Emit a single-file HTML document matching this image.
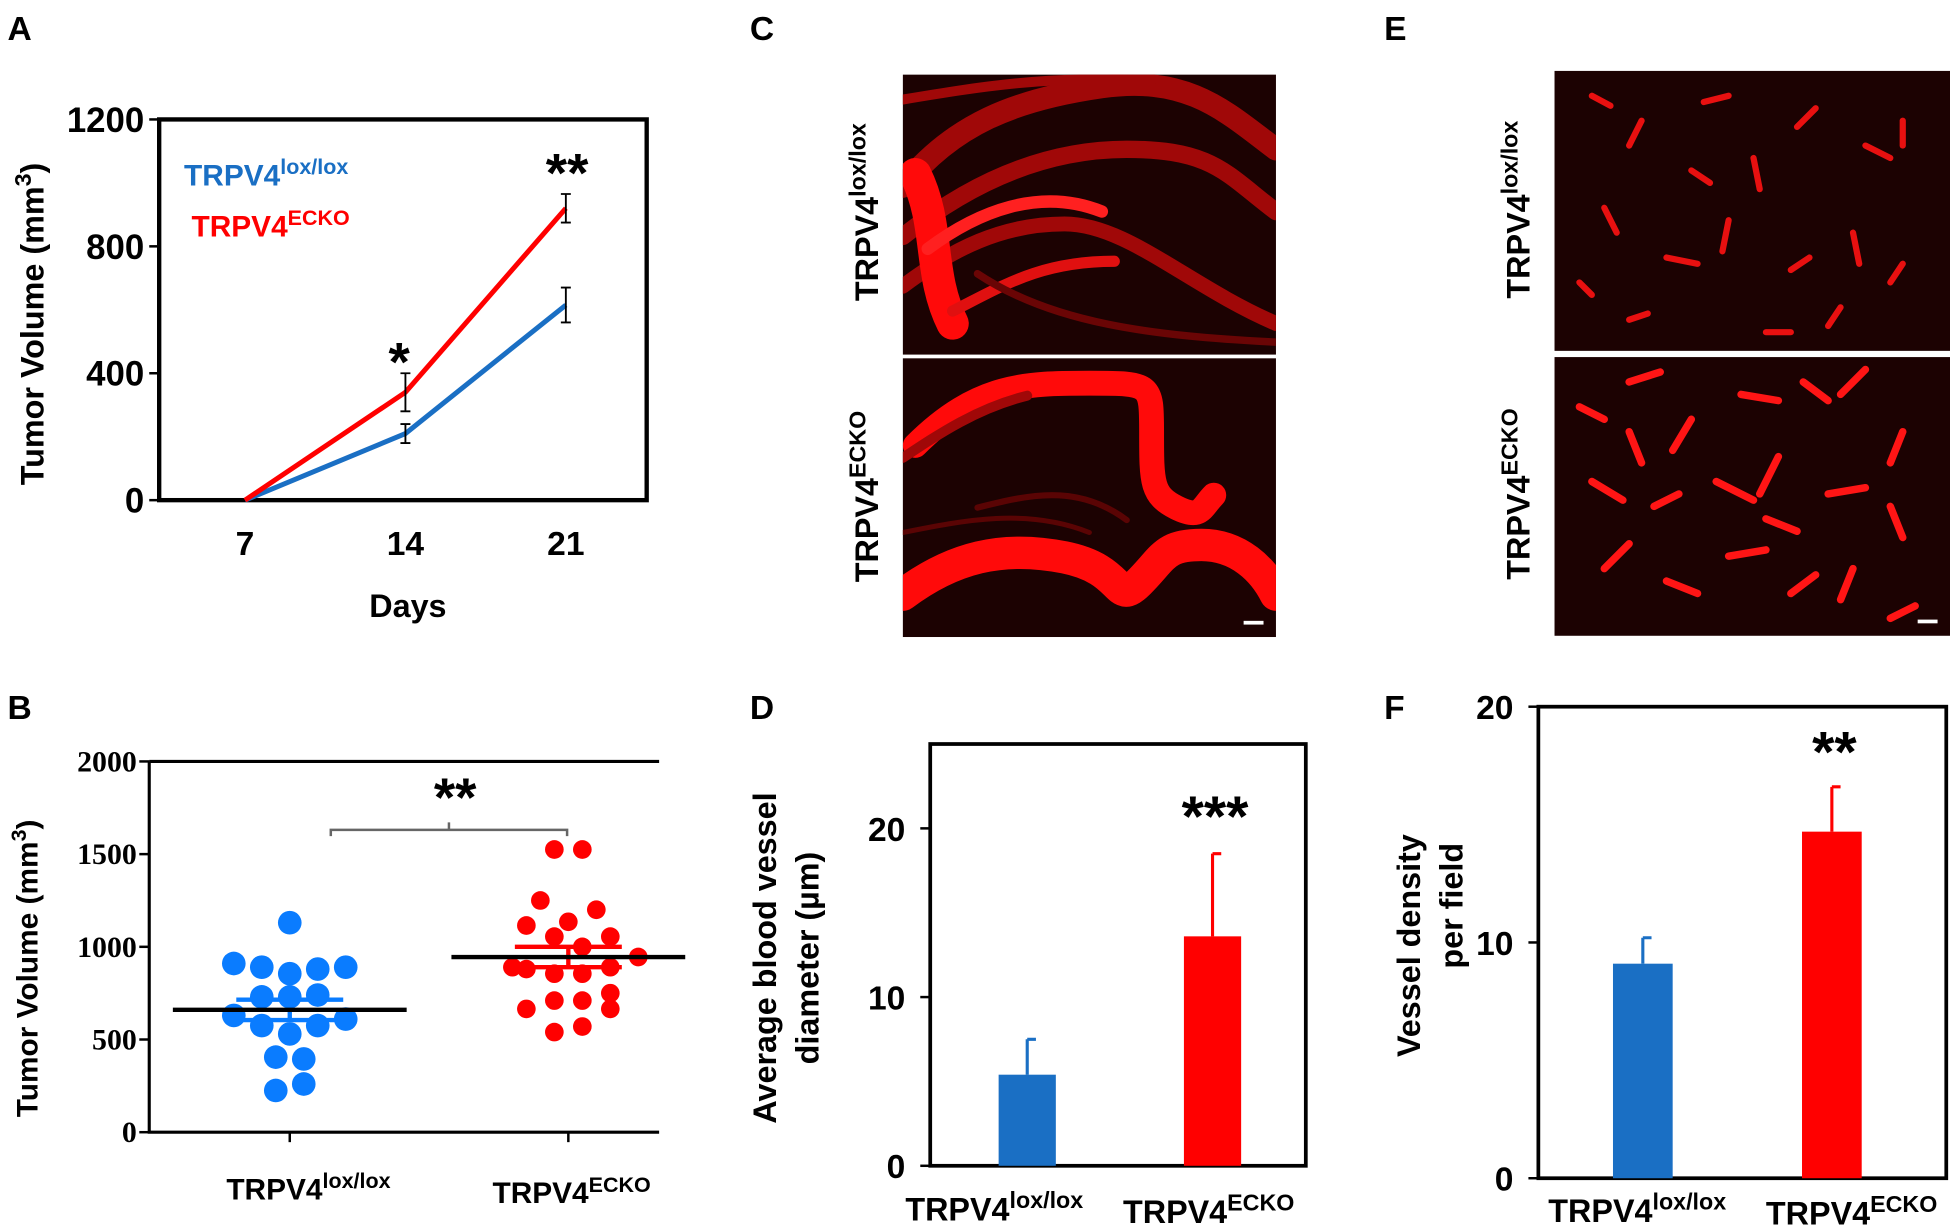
<!DOCTYPE html>
<html><head><meta charset="utf-8"><style>
html,body{margin:0;padding:0;background:#fff;}
svg{display:block;font-family:"Liberation Sans",Arial,sans-serif;font-weight:bold;}
</style></head><body>
<svg id="fig" width="1950" height="1228" viewBox="0 0 1568 987" preserveAspectRatio="none" xmlns="http://www.w3.org/2000/svg">
<g id="labels" font-size="27">
<text x="6" y="32">A</text>
<text x="6" y="578">B</text>
<text x="603" y="32">C</text>
<text x="603" y="578">D</text>
<text x="1113" y="32">E</text>
<text x="1113" y="578">F</text>
</g>
<g id="panelA"></g>
<g id="panelB"></g>
<g id="panelC"></g>
<g id="panelE"></g>
<g id="panelD"></g>
<g id="panelF"></g>
</svg>
<script>
// ---- Panel A data ----
const daysA = [7, 14, 21];
const ctrlA = [0, 210, 615];
const ctrlErrA = [0, 30, 55];
const ekoA = [0, 340, 920];
const ekoErrA = [0, 60, 45];
const yTicksA = [0, 400, 800, 1200];
// ---- Panel B data ----
const ctrlB = [1130,910,890,855,880,890,730,730,740,630,575,530,575,610,405,395,225,260];
const ctrlJitB = [0,-2,-1,0,1,2,-1,0,1,-2,-1,0,1,2,-0.5,0.5,-0.5,0.5];
const ekoB = [1525,1525,1250,1200,1135,1115,1055,1055,1000,945,890,880,855,855,890,750,710,710,665,665,540,570];
const ekoJitB = [-0.5,0.5,-1,1,0,-1.5,-0.5,1.5,0.5,2.5,-2,-1.5,-0.5,0.5,1.5,1.5,-0.5,0.5,-1.5,1.5,-0.5,0.5];
const meanB = [660, 945];
const semB = [55, 55];
const yTicksB = [0, 500, 1000, 1500, 2000];
// ---- Panel D data ----
const valD = [5.4, 13.6];
const errD = [2.1, 4.9];
const yTicksD = [0, 10, 20];
// ---- Panel F data ----
const valF = [9.1, 14.7];
const errF = [1.1, 1.9];
const yTicksF = [0, 10, 20];

const NS = "http://www.w3.org/2000/svg";
function mk(parent, tag, attrs, text){
  const e = document.createElementNS(NS, tag);
  for (const k in attrs) e.setAttribute(k, attrs[k]);
  if (text !== undefined) e.textContent = text;
  parent.appendChild(e);
  return e;
}
function label(parent, x, y, base, sup, fill, size, name, rot){
  const t = mk(parent, 'text', {x:x, y:y, fill:fill, 'font-size':size});
  if (rot) t.setAttribute('transform', rot);
  
  
  mk(t, 'tspan', {}, base);
  mk(t, 'tspan', {'font-size': size*0.72, dy: -size*0.38}, sup);
  return t;
}

// ===== Panel A =====
(function(){
  const g = document.getElementById('panelA');
  const L=128,R=520,T=96,B=402;
  const xs = d => 197 + (d-7)*(455-197)/14;
  const ys = v => B - v*(B-T)/1200;
  const fr = mk(g,'rect',{x:L,y:T,width:R-L,height:B-T,fill:'none',stroke:'#000','stroke-width':3.5});
  
  
  yTicksA.forEach(v=>{
    const tk = mk(g,'line',{x1:L-8,x2:L,y1:ys(v),y2:ys(v),stroke:'#000','stroke-width':2});
    
    
    const tl = mk(g,'text',{x:L-12,y:ys(v)+10,'text-anchor':'end','font-size':28},String(v));
    
    
  });
  daysA.forEach(d=>{
    const tl = mk(g,'text',{x:xs(d),y:446,'text-anchor':'middle','font-size':27},String(d));
    
    
  });
  const xt = mk(g,'text',{x:328,y:496,'text-anchor':'middle','font-size':26},'Days');
  
  
  label(g,0,0,'Tumor Volume (mm','3','#000',26,'y-axis-title-a','translate(35,390) rotate(-90)');
  mk(g.lastChild,'tspan',{dy:9.9},')');
  [[ctrlA,ctrlErrA,'#1a6fc4','line-control'],[ekoA,ekoErrA,'#ff0000','line-ecko']].forEach(([vals,errs,col,nm])=>{
    const p = mk(g,'polyline',{points:vals.map((v,i)=>xs(daysA[i])+','+ys(v)).join(' '),fill:'none',stroke:col,'stroke-width':4});
    
    
    vals.forEach((v,i)=>{ if(!errs[i]) return;
      const x=xs(daysA[i]);
      const e = mk(g,'path',{d:`M${x},${ys(v-errs[i])}V${ys(v+errs[i])}M${x-4},${ys(v-errs[i])}h8M${x-4},${ys(v+errs[i])}h8`,stroke:'#000','stroke-width':1.5,fill:'none'});
      
      
    });
  });
  label(g,148,149,'TRPV4','lox/lox','#1a6fc4',24,'legend-entry-control');
  label(g,154,190,'TRPV4','ECKO','#ff0000',24,'legend-entry-ecko');
  const s1 = mk(g,'text',{x:321,y:306,'text-anchor':'middle','font-size':44},'*');
  
  
  const s2 = mk(g,'text',{x:456,y:154,'text-anchor':'middle','font-size':44},'**');
  
  
})();

// ===== Panel B =====
(function(){
  const g = document.getElementById('panelB');
  const L=120,R=530,T=612,B=910;
  const ys = v => B - v*(B-T)/2000;
  const cx = [233, 457];
  const fr = mk(g,'path',{d:`M${L},${T}H${R}M${L},${T}V${B}H${R}`,fill:'none',stroke:'#000','stroke-width':2.5});
  
  
  yTicksB.forEach(v=>{
    const tk = mk(g,'line',{x1:L-8,x2:L,y1:ys(v),y2:ys(v),stroke:'#000','stroke-width':2});
    
    
    const tl = mk(g,'text',{x:L-10,y:ys(v)+8,'text-anchor':'end','font-size':24,'font-family':'Liberation Serif, serif'},String(v));
    
    
  });
  cx.forEach(x=>{
    const tk = mk(g,'line',{x1:x,x2:x,y1:B,y2:B+8,stroke:'#000','stroke-width':2});
    
    
  });
  label(g,182,964,'TRPV4','lox/lox','#000',24,'x-label-control-b');
  label(g,396,967,'TRPV4','ECKO','#000',24,'x-label-ecko-b');
  label(g,0,0,'Tumor Volume (mm','3','#000',24,'y-axis-title-b','translate(30,898) rotate(-90)');
  mk(g.lastChild,'tspan',{dy:9.1},')');
  [[ctrlB,ctrlJitB,'#0a7cff',0],[ekoB,ekoJitB,'#ff0000',1]].forEach(([vals,jit,col,gi])=>{
    vals.forEach((v,i)=>{
      const c = mk(g,'circle',{cx:cx[gi]+jit[i]*22.5,cy:ys(v),r:gi?7.5:9.5,fill:col});
      
      
    });
    const m = ys(meanB[gi]), sh=ys(meanB[gi]+semB[gi]), sl=ys(meanB[gi]-semB[gi]);
    const eb = mk(g,'path',{d:`M${cx[gi]-43},${sh}h86M${cx[gi]-43},${sl}h86M${cx[gi]},${sh}V${sl}`,stroke:col,'stroke-width':3.5,fill:'none'});
    
    
    const ml = mk(g,'line',{x1:cx[gi]-94,x2:cx[gi]+94,y1:m,y2:m,stroke:'#000','stroke-width':3.5});
    
    
  });
  const br = mk(g,'path',{d:'M266,672V667H456V672M361,667V661',stroke:'#666','stroke-width':2,fill:'none'});
  
  
  const st = mk(g,'text',{x:366,y:656,'text-anchor':'middle','font-size':44},'**');
  
  
})();

// ===== Micrographs =====
function micro(g, x, y, w, h, paths, name, lblBase, lblSup, lx, ly, bar){
  const r = mk(g,'rect',{x:x,y:y,width:w,height:h,fill:'#1c0202'});
  
  
  const clip = 'c'+name;
  const cp = mk(g,'clipPath',{id:clip});
  mk(cp,'rect',{x:x,y:y,width:w,height:h});
  const gg = mk(g,'g',{'clip-path':`url(#${clip})`});
  paths.forEach(([d,sw,col])=>{
    const p = mk(gg,'path',{d:d,transform:`translate(${x},${y})`,stroke:col||'#ff1010','stroke-width':sw,fill:'none','stroke-linecap':'round','stroke-linejoin':'round'});
    
    
  });
  if(bar){ const b=mk(g,'rect',{x:x+w-26,y:y+h-13,width:16,height:3,fill:'#fff'});
    
     }
  label(g,0,0,lblBase,lblSup,'#000',26,'image-label',`translate(${lx},${ly}) rotate(-90)`);
}
(function(){
  const g = document.getElementById('panelC');
  const dim='#a00808';
  micro(g,726,60,300,225,[
    ['M0,90 C40,40 90,20 160,10 S260,30 300,60',18,dim],
    ['M0,130 C50,90 110,60 180,60 S260,80 300,110',14,dim],
    ['M0,170 C40,140 80,120 130,120 S230,170 300,200',12,dim],
    ['M10,80 C30,120 20,160 40,200',26,'#ff0a0a'],
    ['M20,140 C60,110 110,90 160,110',10,'#ff2020'],
    ['M40,190 C80,170 110,150 170,150',9,'#e01010'],
    ['M0,20 C60,10 120,0 200,5',8,dim],
    ['M60,160 C120,200 200,210 300,215',6,'#6a0505']
  ],'micrograph-c-control','TRPV4','lox/lox',706,242,false);
  micro(g,726,288,300,224,[
    ['M10,70 C60,20 100,20 150,20 S200,20 200,60 S200,110 220,120 S240,120 250,110',20,'#ff0a0a'],
    ['M0,190 C40,160 80,150 130,160 S170,200 190,180 S210,150 240,150 S290,170 300,190',26,'#ff0a0a'],
    ['M0,80 C30,60 60,40 100,30',8,dim],
    ['M60,120 C100,110 140,100 180,130',5,'#5a0404'],
    ['M0,140 C50,130 100,120 150,140',4,'#5a0404']
  ],'micrograph-c-ecko','TRPV4','ECKO',706,468,true);
})();
(function(){
  const g = document.getElementById('panelE');
  const s1=[], s2=[];
  [[30,20,15,8],[70,40,-10,20],[120,25,20,-5],[160,70,5,25],[210,30,-15,15],[250,60,20,10],[40,110,10,20],[90,150,25,5],[140,120,-5,25],[190,160,15,-10],[240,130,5,25],[280,40,0,20],[60,200,15,-5],[170,210,20,0],[230,190,-10,15],[20,170,10,10],[110,80,15,10],[270,170,10,-15]].forEach(([a,b,c,d])=>s1.push([`M${a},${b}l${c},${d}`,5,'#e81010']));
  [[20,40,20,10],[60,20,25,-8],[110,50,-15,25],[150,30,30,5],[200,20,20,15],[250,10,-20,20],[280,60,-10,25],[30,100,25,15],[80,120,20,-10],[130,100,30,15],[180,80,-15,30],[220,110,30,-5],[270,120,10,25],[40,170,20,-20],[90,180,25,10],[140,160,30,-5],[190,190,20,-15],[240,170,-10,25],[290,200,-20,10],[60,60,10,25],[170,130,25,10]].forEach(([a,b,c,d])=>s2.push([`M${a},${b}l${c},${d}`,6,'#ff1515']));
  micro(g,1250,57,318,225,s1,'micrograph-e-control','TRPV4','lox/lox',1230,240,false);
  micro(g,1250,287,318,224,s2,'micrograph-e-ecko','TRPV4','ECKO',1230,466,true);
})();

// ===== Bar panels =====
function barPanel(g, L, R, T, B, maxV, ticks, vals, errs, xs, bw, titleLines, star, starY, lab1, lab2, suffix){
  const ys = v => B - v*(B-T)/maxV;
  const fr = mk(g,'rect',{x:L,y:T,width:R-L,height:B-T,fill:'none',stroke:'#000','stroke-width':3});
  
  
  ticks.forEach(v=>{
    const tk = mk(g,'line',{x1:L-8,x2:L,y1:ys(v),y2:ys(v),stroke:'#000','stroke-width':2});
    
    
    const tl = mk(g,'text',{x:L-20,y:ys(v)+10,'text-anchor':'end','font-size':27},String(v));
    
    
  });
  const cols=['#1a6fc4','#ff0000'];
  vals.forEach((v,i)=>{
    const b = mk(g,'rect',{x:xs[i]-bw/2,y:ys(v),width:bw,height:B-ys(v),fill:cols[i]});
    
    
    const e = mk(g,'path',{d:`M${xs[i]},${ys(v)}V${ys(v+errs[i])}M${xs[i]},${ys(v+errs[i])}h7`,stroke:cols[i],'stroke-width':2.5,fill:'none'});
    
    
  });
  const s = mk(g,'text',{x:xs[1]+2,y:starY,'text-anchor':'middle','font-size':46},star);
  
  
  label(g,lab1[0],lab1[1],'TRPV4','lox/lox','#000',26,'x-label-control-'+suffix);
  label(g,lab2[0],lab2[1],'TRPV4','ECKO','#000',26,'x-label-ecko-'+suffix);
  titleLines.forEach(([txt,x,y])=>{
    const t = mk(g,'text',{transform:`translate(${x},${y}) rotate(-90)`,'text-anchor':'middle','font-size':26},txt);
    
    
  });
}
barPanel(document.getElementById('panelD'),748,1050,598,937,25,yTicksD,valD,errD,[826,975],46,
  [['Average blood vessel',634,770],['diameter (\u00b5m)',668,770]].map(([t,x,y])=>[t,x-10,y]),'***',672,[728,981],[903,983],'d');
barPanel(document.getElementById('panelF'),1237,1565,568,947,20,yTicksF,valF,errF,[1321,1473],48,
  [['Vessel density',1142,760],['per field',1176,728]],'**',620,[1245,982],[1420,984],'f');
</script>
</body></html>
